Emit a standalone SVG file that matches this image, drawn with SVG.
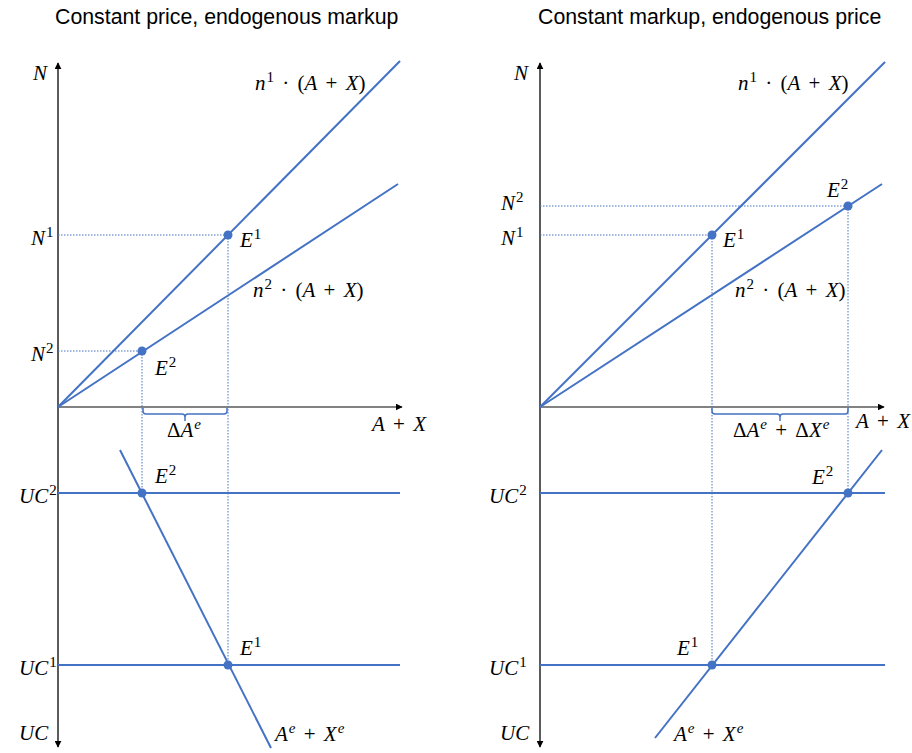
<svg xmlns="http://www.w3.org/2000/svg" width="912" height="753" viewBox="0 0 912 753">
<style>
.title{font-family:"Liberation Sans",Arial,sans-serif;font-size:21.3px;fill:#000}
.m{font-family:"Liberation Serif","Times New Roman",serif;font-size:21px;font-style:italic;fill:#000;word-spacing:3px}
.u{font-style:normal}
.sup{font-size:15px;font-style:normal}
.supi{font-size:15px;font-style:italic}
.axis{stroke:#262626;stroke-width:1.5;fill:none}
.xaxis{stroke:#595959;stroke-width:1.5;fill:none}
.ln{stroke:#4472C4;stroke-width:2;fill:none}
.dot{stroke:#4472C4;stroke-width:1;stroke-dasharray:1.5 1.5;fill:none}
.br{stroke:#4472C4;stroke-width:1.5;fill:none}
.pt{fill:#4472C4}
</style>
<defs>
<marker id="ah" viewBox="0 0 10 10" refX="9" refY="5" markerWidth="7" markerHeight="7" orient="auto" markerUnits="userSpaceOnUse">
<path d="M0,0 L10,5 L0,10 z" fill="#000"/>
</marker>
</defs>
<rect width="912" height="753" fill="#fff"/>

<text class="title" x="55" y="24">Constant price, endogenous markup</text>
<text class="title" x="538" y="24">Constant markup, endogenous price</text>

<g id="connectors">
<line class="axis" x1="58" y1="407" x2="58" y2="63" marker-end="url(#ah)"/>
<line class="axis" x1="58" y1="407" x2="58" y2="747" marker-end="url(#ah)"/>
<line class="xaxis" x1="58" y1="407" x2="402" y2="407" marker-end="url(#ah)"/>
<line class="axis" x1="540" y1="407" x2="540" y2="63" marker-end="url(#ah)"/>
<line class="axis" x1="540" y1="407" x2="540" y2="747" marker-end="url(#ah)"/>
<line class="xaxis" x1="540" y1="407" x2="884" y2="407" marker-end="url(#ah)"/>

<line class="dot" x1="58" y1="235" x2="228" y2="235"/>
<line class="dot" x1="58" y1="351" x2="142" y2="351"/>
<line class="dot" x1="228" y1="235" x2="228" y2="665"/>
<line class="dot" x1="142" y1="351" x2="142" y2="493"/>
<line class="dot" x1="540" y1="206" x2="848" y2="206"/>
<line class="dot" x1="540" y1="235" x2="712" y2="235"/>
<line class="dot" x1="712" y1="235" x2="712" y2="665"/>
<line class="dot" x1="848" y1="206" x2="848" y2="493"/>

<line class="ln" x1="58" y1="407" x2="400" y2="61"/>
<line class="ln" x1="58" y1="407" x2="398" y2="184"/>
<line class="ln" x1="58" y1="493" x2="400" y2="493"/>
<line class="ln" x1="58" y1="665" x2="400" y2="665"/>
<line class="ln" x1="120" y1="450" x2="271" y2="748"/>
<line class="ln" x1="540" y1="407" x2="885" y2="62"/>
<line class="ln" x1="540" y1="407" x2="882" y2="184"/>
<line class="ln" x1="540" y1="493" x2="885" y2="493"/>
<line class="ln" x1="540" y1="665" x2="885" y2="665"/>
<line class="ln" x1="655" y1="738" x2="882" y2="450"/>

<path class="br" d="M143,408 v3 q0,3 3,3 h36 q3,0 3,3 v4 v-4 q0,-3 3,-3 h36 q3,0 3,-3 v-3"/>
<path class="br" d="M712,408 v3 q0,3 3,3 h62 q3,0 3,3 v4 v-4 q0,-3 3,-3 h62 q3,0 3,-3 v-3"/>
</g>

<g id="E1-left-top"><circle class="pt" cx="228" cy="235" r="4.5"/><text class="m" x="240" y="247">E<tspan class="sup" dx="1" dy="-8">1</tspan></text></g>
<g id="E2-left-top"><circle class="pt" cx="142" cy="351" r="4.5"/><text class="m" x="155" y="375">E<tspan class="sup" dx="1" dy="-8">2</tspan></text></g>
<g id="E2-left-bottom"><circle class="pt" cx="142" cy="493" r="4.5"/><text class="m" x="155" y="483">E<tspan class="sup" dx="1" dy="-8">2</tspan></text></g>
<g id="E1-left-bottom"><circle class="pt" cx="228" cy="665" r="4.5"/><text class="m" x="240" y="655">E<tspan class="sup" dx="1" dy="-8">1</tspan></text></g>

<g id="E1-right-top"><circle class="pt" cx="712" cy="235" r="4.5"/><text class="m" x="723" y="247">E<tspan class="sup" dx="1" dy="-8">1</tspan></text></g>
<g id="E2-right-top"><circle class="pt" cx="848" cy="206" r="4.5"/><text class="m" x="827" y="197">E<tspan class="sup" dx="1" dy="-8">2</tspan></text></g>
<g id="E2-right-bottom"><circle class="pt" cx="848" cy="493" r="4.5"/><text class="m" x="812" y="484">E<tspan class="sup" dx="1" dy="-8">2</tspan></text></g>
<g id="E1-right-bottom"><circle class="pt" cx="712" cy="665" r="4.5"/><text class="m" x="677" y="655">E<tspan class="sup" dx="1" dy="-8">1</tspan></text></g>

<g id="labels-left">
<text class="m" x="33" y="80">N</text>
<text class="m" x="255" y="90">n<tspan class="sup" dx="1" dy="-8">1</tspan><tspan class="u" dy="8"> · (</tspan>A<tspan class="u"> + </tspan>X<tspan class="u">)</tspan></text>
<text class="m" x="253" y="297">n<tspan class="sup" dx="1" dy="-8">2</tspan><tspan class="u" dy="8"> · (</tspan>A<tspan class="u"> + </tspan>X<tspan class="u">)</tspan></text>
<text class="m" x="31" y="245">N<tspan class="sup" dx="1" dy="-8">1</tspan></text>
<text class="m" x="31" y="361">N<tspan class="sup" dx="1" dy="-8">2</tspan></text>
<text class="m" x="167" y="437"><tspan class="u">Δ</tspan>A<tspan class="supi" dx="1" dy="-8">e</tspan></text>
<text class="m" x="372" y="431">A<tspan class="u"> + </tspan>X</text>
<text class="m" x="19" y="503">UC<tspan class="sup" dx="1" dy="-8">2</tspan></text>
<text class="m" x="19" y="675">UC<tspan class="sup" dx="1" dy="-8">1</tspan></text>
<text class="m" x="19" y="740">UC</text>
<text class="m" x="275" y="741">A<tspan class="supi" dx="1" dy="-8">e</tspan><tspan class="u" dy="8"> + </tspan>X<tspan class="supi" dx="1" dy="-8">e</tspan></text>
</g>

<g id="labels-right">
<text class="m" x="514" y="80">N</text>
<text class="m" x="738" y="90">n<tspan class="sup" dx="1" dy="-8">1</tspan><tspan class="u" dy="8"> · (</tspan>A<tspan class="u"> + </tspan>X<tspan class="u">)</tspan></text>
<text class="m" x="735" y="297">n<tspan class="sup" dx="1" dy="-8">2</tspan><tspan class="u" dy="8"> · (</tspan>A<tspan class="u"> + </tspan>X<tspan class="u">)</tspan></text>
<text class="m" x="501" y="210">N<tspan class="sup" dx="1" dy="-8">2</tspan></text>
<text class="m" x="501" y="245">N<tspan class="sup" dx="1" dy="-8">1</tspan></text>
<text class="m" x="733" y="437"><tspan class="u">Δ</tspan>A<tspan class="supi" dx="1" dy="-8">e</tspan><tspan class="u" dy="8"> + Δ</tspan>X<tspan class="supi" dx="1" dy="-8">e</tspan></text>
<text class="m" x="856" y="428">A<tspan class="u"> + </tspan>X</text>
<text class="m" x="489" y="503">UC<tspan class="sup" dx="1" dy="-8">2</tspan></text>
<text class="m" x="489" y="675">UC<tspan class="sup" dx="1" dy="-8">1</tspan></text>
<text class="m" x="500" y="740">UC</text>
<text class="m" x="674" y="741">A<tspan class="supi" dx="1" dy="-8">e</tspan><tspan class="u" dy="8"> + </tspan>X<tspan class="supi" dx="1" dy="-8">e</tspan></text>
</g>
</svg>
